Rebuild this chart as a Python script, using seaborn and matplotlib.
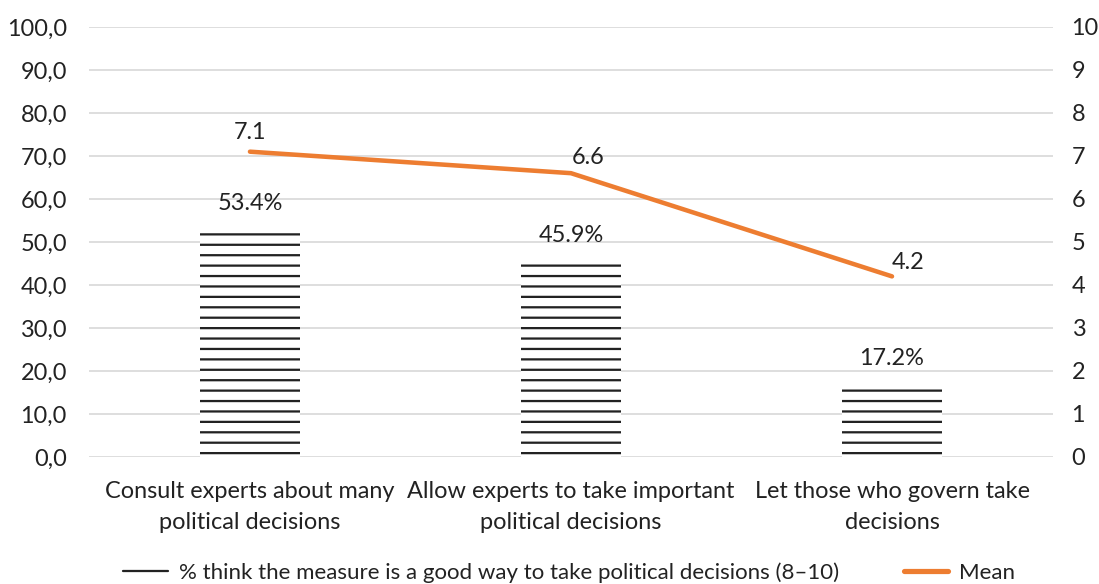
import numpy as np
import matplotlib
matplotlib.use("Agg")
import matplotlib.pyplot as plt
from matplotlib.lines import Line2D
import seaborn as sns

categories = ["Consult experts about many\npolitical decisions",
              "Allow experts to take important\npolitical decisions",
              "Let those who govern take\ndecisions"]
pct_good = [53.4, 45.9, 17.2]
mean_score = [7.1, 6.6, 4.2]
pct_labels = ["53.4%", "45.9%", "17.2%"]
mean_labels = ["7.1", "6.6", "4.2"]
left_ticks = [0, 10, 20, 30, 40, 50, 60, 70, 80, 90, 100]
right_ticks = [0, 1, 2, 3, 4, 5, 6, 7, 8, 9, 10]

sns.set_style("white")
plt.rcParams['font.family'] = ['Lato', 'DejaVu Sans']
plt.rcParams['hatch.linewidth'] = 1.3
plt.rcParams['hatch.color'] = '#222222'

fs = 13.5
fig = plt.figure(figsize=(8.792, 4.672), dpi=125)
ax = fig.add_axes([0.0814, 0.2175, 0.8763, 0.7363])

sns.barplot(x=categories, y=pct_good, ax=ax, color="white", width=0.31,
            hatch="--", edgecolor="#222222", linewidth=0)
ax.set_ylim(0, 100)
ax.set_xlim(-0.5, 2.5)
ax.set_yticks(left_ticks)
ax.set_yticklabels([f"{t:.1f}".replace(".", ",") for t in left_ticks])
ax.yaxis.grid(True, color="#d9d9d9", linewidth=1)
ax.set_axisbelow(True)
for s in ax.spines.values():
    s.set_visible(False)
ax.tick_params(axis="both", length=0, labelsize=fs, colors="#222222", pad=13)
ax.tick_params(axis="x", pad=14)
for t in ax.get_xticklabels():
    t.set_linespacing(1.6)

for i, (v, lab) in enumerate(zip(pct_good, pct_labels)):
    ax.annotate(lab, (i, v), xytext=(0, 14), textcoords="offset points",
                ha="center", va="center", fontsize=fs, color="#222222")

ax2 = ax.twinx()
sns.lineplot(x=np.arange(len(mean_score)), y=mean_score, ax=ax2,
             color="#ED7D31", linewidth=2.6)
ax2.set_ylim(0, 10)
ax2.set_yticks(right_ticks)
for s in ax2.spines.values():
    s.set_visible(False)
ax2.tick_params(axis="y", length=0, labelsize=fs, colors="#222222", pad=11)

offsets = [(0, 11), (10, 9), (9, 8)]
for i, (v, lab) in enumerate(zip(mean_score, mean_labels)):
    ax2.annotate(lab, (i, v), xytext=offsets[i], textcoords="offset points",
                 ha="center", va="center", fontsize=fs, color="#222222")

handles = [Line2D([], [], color="#222222", linewidth=1.3),
           Line2D([], [], color="#ED7D31", linewidth=3)]
fig.legend(handles, ["% think the measure is a good way to take political decisions (8\u201310)", "Mean"],
           loc="lower center", bbox_to_anchor=(0.518, -0.033), ncol=2, frameon=False,
           fontsize=12.8, handlelength=2.0, columnspacing=2.9, handletextpad=0.5,
           labelcolor="#222222")

fig.savefig("out.png", dpi=125)
